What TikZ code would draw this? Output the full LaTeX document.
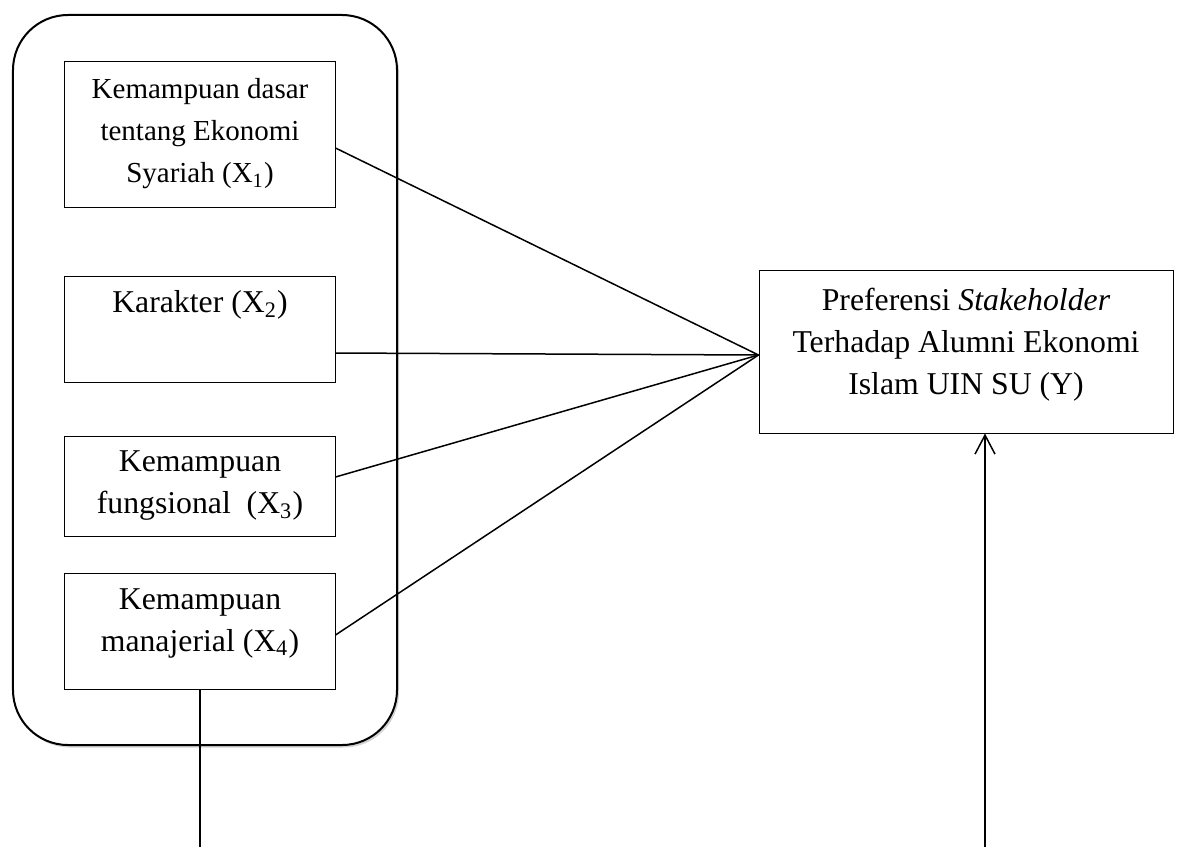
\documentclass[tikz,border=0pt]{standalone}
\usepackage{fontspec}
\setmainfont{Liberation Serif}
\usetikzlibrary{arrows.meta,shadows}
\tikzset{
	varbox/.style={draw, line width=0.4pt, minimum width=108pt, align=center, inner sep=2pt, font=\fontsize{12.7}{16.8}\selectfont},
	link/.style={line width=0.6pt},
}

\begin{document}
\begin{tikzpicture}[x=0.4pt, y=-0.4pt]
			%%%%% START %%%%%
			\useasboundingbox (0, 0) rectangle (1179, 847);
			
			\node[draw, fill=white, line width=0.8pt, rounded corners=22pt, minimum width=153.6pt, minimum height=292pt, drop shadow={opacity=0.35, shadow xshift=0.8pt, shadow yshift=-1pt}] (grp) at (205, 380) {};
			
			\node[varbox, minimum height=58.4pt, font=\fontsize{11.6}{16.8}\selectfont] (x1) at (200, 134) {Kemampuan dasar\\ tentang Ekonomi\\ Syariah (X\textsubscript{1})};
			\node[varbox, minimum height=42.4pt] (x2) at (200, 329) {Karakter (X\textsubscript{2})\\ \strut};
			\node[varbox, minimum height=40pt] (x3) at (200, 486) {Kemampuan\\ fungsional\ \ (X\textsubscript{3})};
			\node[varbox, minimum height=46.4pt, text depth=9pt] (x4) at (200, 631) {Kemampuan\\ manajerial (X\textsubscript{4})};
			
			\node[varbox, minimum width=165.6pt, minimum height=65.2pt, text depth=8pt] (y) at (966, 351.5) {Preferensi \textit{Stakeholder}\\ Terhadap Alumni Ekonomi\\ Islam UIN SU (Y)};
			
			\coordinate (hub) at ([yshift=-1.4pt]y.west);
			\coordinate (bottom) at (0, 847);
			\coordinate (tail) at ([xshift=7.6pt]y.south);
			
			\draw[link] ([yshift=-5.6pt]x1.east) -- (hub);
			\draw[link] ([yshift=-9.6pt]x2.east) -- (hub);
			\draw[link] ([yshift=3.6pt]x3.east) -- (hub);
			\draw[link] ([yshift=-1.6pt]x4.east) -- (hub);
			
			\draw[link] (x4.south) -- (x4.south |- bottom);
			\draw[link, -{Straight Barb[width=8pt, length=7.6pt]}] (tail |- bottom) -- (tail);
			
			%%%%% END %%%%%
\end{tikzpicture}
\end{document}
